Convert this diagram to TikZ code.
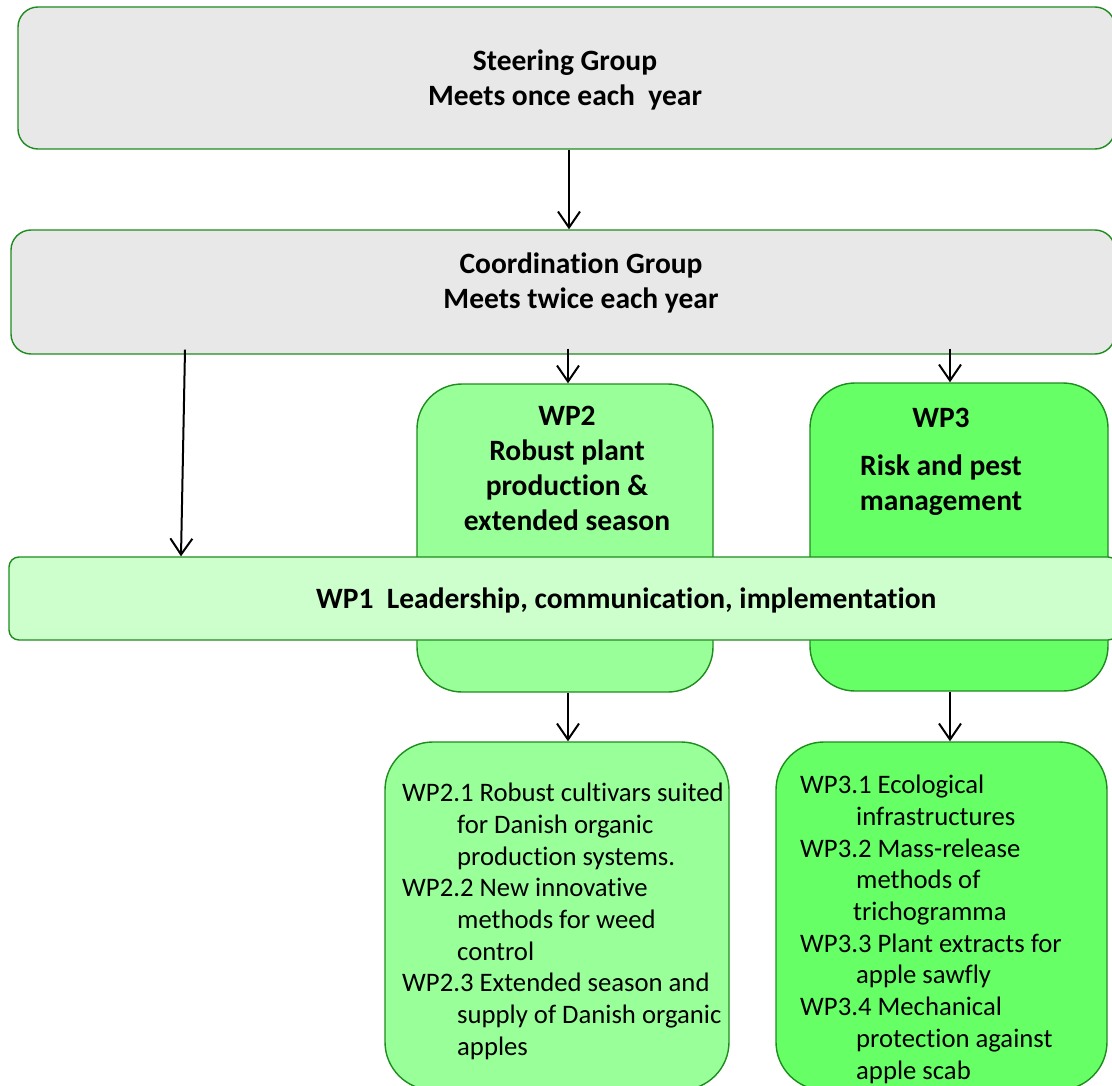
\documentclass[tikz,border=0pt]{standalone}
\usepackage{fontspec}
\setmainfont{Carlito}[Ligatures={NoCommon,NoContextual},Contextuals=NoAlternate,RawFeature={-liga;-clig;-calt}]
\usetikzlibrary{arrows.meta}
\definecolor{borde}{RGB}{30,140,30}
\definecolor{gris}{RGB}{232,232,232}
\definecolor{verdeA}{RGB}{153,255,153}
\definecolor{verdeB}{RGB}{102,255,102}
\definecolor{verdeC}{RGB}{204,255,204}
\tikzset{
  caja/.style={draw=borde, line width=1.4pt, rounded corners=#1, inner sep=0pt},
  titulo/.style={font=\fontsize{29.5}{35}\selectfont\bfseries, align=center, inner sep=0pt},
  lista/.style={font=\fontsize{26.7}{31.7}\selectfont, align=left, anchor=north west, inner sep=0pt},
  flecha/.style={line width=2pt, -{Straight Barb[length=16pt,width=22pt]}}
}
\begin{document}
\begin{tikzpicture}[x=1pt,y=-1pt]
            \useasboundingbox (0,0) rectangle (1112,1086);
            \clip (0,0) rectangle (1112,1086);
            % cajas grises
            \node[caja=20pt, fill=gris, minimum width=1097pt, minimum height=142pt] (steer) at (566.5,78) {};
            \node[caja=20pt, fill=gris, minimum width=1104pt, minimum height=124pt] (coord) at (563,292) {};
            % paquetes WP2 y WP3
            \node[caja=45pt, fill=verdeA, minimum width=296pt, minimum height=308pt] (wptwo) at (565,538) {};
            \node[caja=45pt, fill=verdeB, minimum width=298pt, minimum height=308pt] (wpthree) at (959,537) {};
            % banda WP1
            \node[caja=10pt, fill=verdeC, minimum width=1109pt, minimum height=83pt] (wpone) at (563.5,598.5) {};
            % subpaquetes
            \node[caja=48pt, fill=verdeA, minimum width=344pt, minimum height=348pt] (wptwosub) at (557,916) {};
            \node[caja=48pt, fill=verdeB, minimum width=331pt, minimum height=348pt] (wpthreesub) at (941.5,916) {};
            % textos
            \node[titulo] (steer-t) at (565,80) {Steering Group\\Meets once each\ \ year};
            \node[titulo] (coord-t) at (581,283) {Coordination Group\\Meets twice each year};
            \node[titulo] (wptwo-t) at (567,468) {WP2\\Robust plant\\production \&\\extended season};
            \node[titulo] (wpthree-t) at (941,462) {WP3\\[13pt]Risk and pest\\management};
            \node[titulo, anchor=base west] (wpone-t) at (316,608) {WP1\ \ Leadership, communication, implementation};
            \node[lista] (wptwosub-t) at (402,783) {WP2.1 Robust cultivars suited\\
              \hspace*{55pt}for Danish organic\\
              \hspace*{55pt}production systems.\\
              WP2.2 New innovative\\
              \hspace*{55pt}methods for weed\\
              \hspace*{55pt}control\\
              WP2.3 Extended season and\\
              \hspace*{55pt}supply of Danish organic\\
              \hspace*{55pt}apples};
            \node[lista] (wpthreesub-t) at (800,775) {WP3.1 Ecological\\
              \hspace*{56pt}infrastructures\\
              WP3.2 Mass-release\\
              \hspace*{56pt}methods of\\
              \hspace*{53pt}trichogramma\\
              WP3.3 Plant extracts for\\
              \hspace*{56pt}apple sawfly\\
              WP3.4 Mechanical\\
              \hspace*{56pt}protection against\\
              \hspace*{56pt}apple scab};
            % flechas
            \draw[flecha] (steer.south -| 569,0) -- (coord.north -| 569,0);
            \draw[flecha] ([yshift=5pt]coord.south -| 185,0) -- (wpone.north -| 181,0);
            \draw[flecha] ([yshift=6pt]coord.south -| 568,0) -- (wptwo.north -| 568,0);
            \draw[flecha] ([yshift=6pt]coord.south -| 950,0) -- (wpthree.north -| 950,0);
            \draw[flecha] (wptwo.south -| 568,0) -- (wptwosub.north -| 568,0);
            \draw[flecha] (wpthree.south -| 950,0) -- (wpthreesub.north -| 950,0);
\end{tikzpicture}
\end{document}
